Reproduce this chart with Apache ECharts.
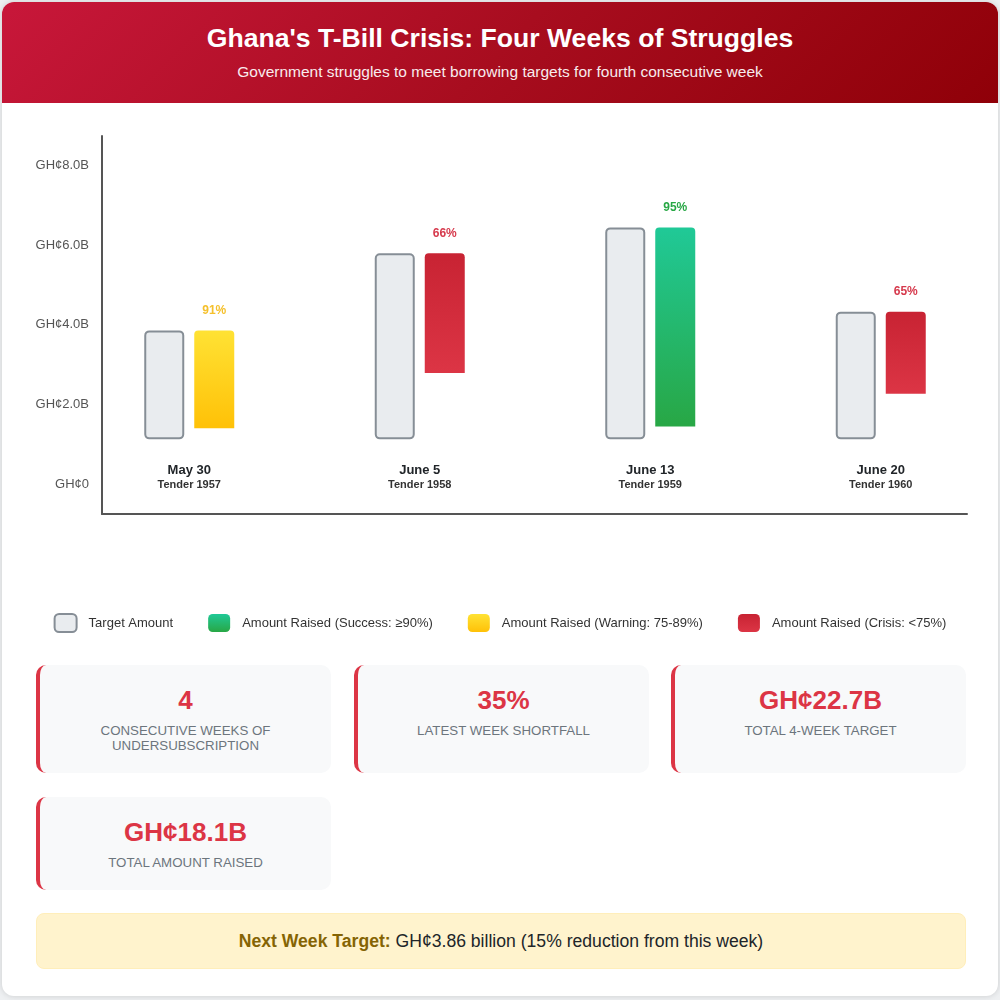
<!DOCTYPE html>
<html>
<head>
<meta charset="UTF-8">
<title>Ghana T-Bill Crisis</title>
<script src="https://cdn.jsdelivr.net/npm/echarts@6/dist/echarts.min.js"></script>
<style>
  body { margin: 0; background: #eef0f2; font-family: "Liberation Sans", Arial, sans-serif; }
  .page { position: absolute; left: 2px; top: 2px; width: 996px; height: 994px; background: #fff;
          border-radius: 12px; box-shadow: 0 0 6px rgba(0,0,0,0.15); }
  .header { position: absolute; left: 2px; top: 2px; width: 996px; height: 101px; border-radius: 12px 12px 0 0;
            background: linear-gradient(135deg, #c8173a 0%, #a80d1f 50%, #8f0008 100%); color: #fff; text-align: center; }
  .header h1 { position: absolute; left: 0; right: 0; top: 20px; margin: 0; font-size: 26.6px; line-height: 32px; font-weight: bold; }
  .header p { position: absolute; left: 0; right: 0; top: 60px; margin: 0; font-size: 15.5px; line-height: 20px; opacity: 0.92; }
  #main { position: absolute; left: 0; top: 103px; width: 1000px; height: 547px; }
  .card { position: absolute; width: 295px; background: #f8f9fa; border-left: 4px solid #dc3545; border-radius: 10px;
          text-align: center; box-sizing: border-box; padding-top: 20px; }
  .card .num { font-size: 26px; line-height: 30px; font-weight: bold; color: #dc3545; }
  .card .lbl { margin-top: 8px; font-size: 13.3px; line-height: 15px; color: #6c757d; text-transform: uppercase; }
  .note { position: absolute; left: 36px; top: 913px; width: 930px; height: 56px; box-sizing: border-box;
          background: #fff3cd; border: 1px solid #ffeeba; border-radius: 8px; text-align: center;
          font-size: 17.6px; line-height: 54px; color: #212529; }
  .note b { color: #856404; }
</style>
</head>
<body>
<div class="page"></div>
<div class="header">
  <h1>Ghana's T-Bill Crisis: Four Weeks of Struggles</h1>
  <p>Government struggles to meet borrowing targets for fourth consecutive week</p>
</div>
<div id="main"></div>

<div class="card" style="left:36px; top:665px; height:108px;">
  <div class="num">4</div>
  <div class="lbl">Consecutive Weeks of<br>Undersubscription</div>
</div>
<div class="card" style="left:354px; top:665px; height:108px;">
  <div class="num">35%</div>
  <div class="lbl">Latest Week Shortfall</div>
</div>
<div class="card" style="left:671px; top:665px; height:108px;">
  <div class="num">GH¢22.7B</div>
  <div class="lbl">Total 4-Week Target</div>
</div>
<div class="card" style="left:36px; top:797px; height:93px;">
  <div class="num">GH¢18.1B</div>
  <div class="lbl">Total Amount Raised</div>
</div>
<div class="note"><b>Next Week Target:</b> GH¢3.86 billion (15% reduction from this week)</div>

<script type="text/javascript">
    // data (GH¢ billions on the axis scale)
    var weeks = ['May 30', 'June 5', 'June 13', 'June 20'];
    var tenders = ['Tender 1957', 'Tender 1958', 'Tender 1959', 'Tender 1960'];
    var barFloor = 1.13;                       // bars start here, not at zero
    var targetHigh = [3.86, 5.79, 6.44, 4.33];
    var raisedHigh = [3.86, 5.79, 6.44, 4.33];
    var raisedLow = [1.41, 2.79, 1.45, 2.27];
    var raisedPct = [91, 66, 95, 65];
    var weekStatus = ['warning', 'crisis', 'success', 'crisis'];
    var yTicks = [0, 2, 4, 6, 8];

    var FONT = '"Liberation Sans", Arial, sans-serif';

    var kinds = {
        success: { name: 'Amount Raised (Success: \u226590%)', top: '#20c997', bottom: '#28a745', label: '#28a745' },
        warning: { name: 'Amount Raised (Warning: 75-89%)', top: '#ffe234', bottom: '#ffc107', label: '#f5c02c' },
        crisis:  { name: 'Amount Raised (Crisis: <75%)', top: '#c82333', bottom: '#dc3545', label: '#d6394c' }
    };

    function grad(a, b) {
        return { type: 'linear', x: 0, y: 0, x2: 0, y2: 1, colorStops: [{ offset: 0, color: a }, { offset: 1, color: b }] };
    }

    var myChart = echarts.init(document.getElementById('main'));

    var series = [
        {
            name: 'tBase', type: 'bar', stack: 't', xAxisIndex: 1, yAxisIndex: 1, silent: true,
            barWidth: 40, barGap: '25%',
            itemStyle: { color: 'transparent' },
            data: weeks.map(function () { return barFloor; })
        },
        {
            name: 'Target Amount', type: 'bar', stack: 't', xAxisIndex: 1, yAxisIndex: 1,
            barWidth: 40, barGap: '25%',
            itemStyle: { color: '#e9ecef', borderColor: '#868e96', borderWidth: 2, borderRadius: 4 },
            data: targetHigh.map(function (v) { return +(v - barFloor).toFixed(3); })
        },
        {
            name: 'rBase', type: 'bar', stack: 'r', xAxisIndex: 1, yAxisIndex: 1, silent: true,
            barWidth: 40, barGap: '25%',
            itemStyle: { color: 'transparent' },
            data: raisedLow
        }
    ];

    ['success', 'warning', 'crisis'].forEach(function (k) {
        var c = kinds[k];
        series.push({
            name: c.name, type: 'bar', stack: 'r', xAxisIndex: 1, yAxisIndex: 1,
            barWidth: 40, barGap: '25%',
            itemStyle: { color: grad(c.top, c.bottom), borderRadius: [4, 4, 0, 0] },
            label: {
                show: true, position: 'top', distance: 14,
                color: c.label, fontSize: 12, fontWeight: 'bold', fontFamily: FONT,
                formatter: function (p) { return raisedPct[p.dataIndex] + '%'; }
            },
            data: weeks.map(function (w, i) {
                return weekStatus[i] === k ? +(raisedHigh[i] - raisedLow[i]).toFixed(3) : null;
            })
        });
    });

    var yMin = -0.74, yMax = 8.73;

    myChart.setOption({
        animation: false,
        textStyle: { fontFamily: FONT },
        legend: {
            data: ['Target Amount', kinds.success.name, kinds.warning.name, kinds.crisis.name],
            left: 'center', top: 505,
            icon: 'roundRect', itemWidth: 22, itemHeight: 18, itemGap: 35,
            textStyle: { fontSize: 13, color: '#333', fontFamily: FONT, padding: [0, 0, 0, 7] },
            selectedMode: false
        },
        grid: [
            { left: 102, right: 33, top: 33, bottom: 136 },
            { left: 74, right: 4, top: 33, bottom: 136 }
        ],
        xAxis: [
            {
                gridIndex: 0, type: 'category', data: weeks,
                axisLine: { show: true, onZero: false, lineStyle: { color: '#555', width: 2 } },
                axisTick: { show: false }, axisLabel: { show: false }
            },
            {
                gridIndex: 1, type: 'category', data: weeks,
                axisLine: { show: false }, axisTick: { show: false },
                axisLabel: {
                    inside: true, margin: 22,
                    formatter: function (v, i) { return '{a|' + v + '}\n{b|' + tenders[i] + '}'; },
                    rich: {
                        a: { fontSize: 13, fontWeight: 'bold', color: '#212529', lineHeight: 15, fontFamily: FONT },
                        b: { fontSize: 11, fontWeight: 'bold', color: '#333', lineHeight: 14, fontFamily: FONT }
                    }
                }
            }
        ],
        yAxis: [
            {
                gridIndex: 0, type: 'value', min: yMin, max: yMax,
                axisLine: { show: true, lineStyle: { color: '#555', width: 2 } },
                axisTick: { show: false }, splitLine: { show: false },
                axisLabel: {
                    customValues: yTicks, margin: 13, fontSize: 13, color: '#555', fontFamily: FONT,
                    formatter: function (v) { return v === 0 ? 'GH\u00a20' : 'GH\u00a2' + v.toFixed(1) + 'B'; }
                }
            },
            {
                gridIndex: 1, type: 'value', min: yMin, max: yMax, show: false,
                splitLine: { show: false }
            }
        ],
        series: series
    });
</script>
</body>
</html>
